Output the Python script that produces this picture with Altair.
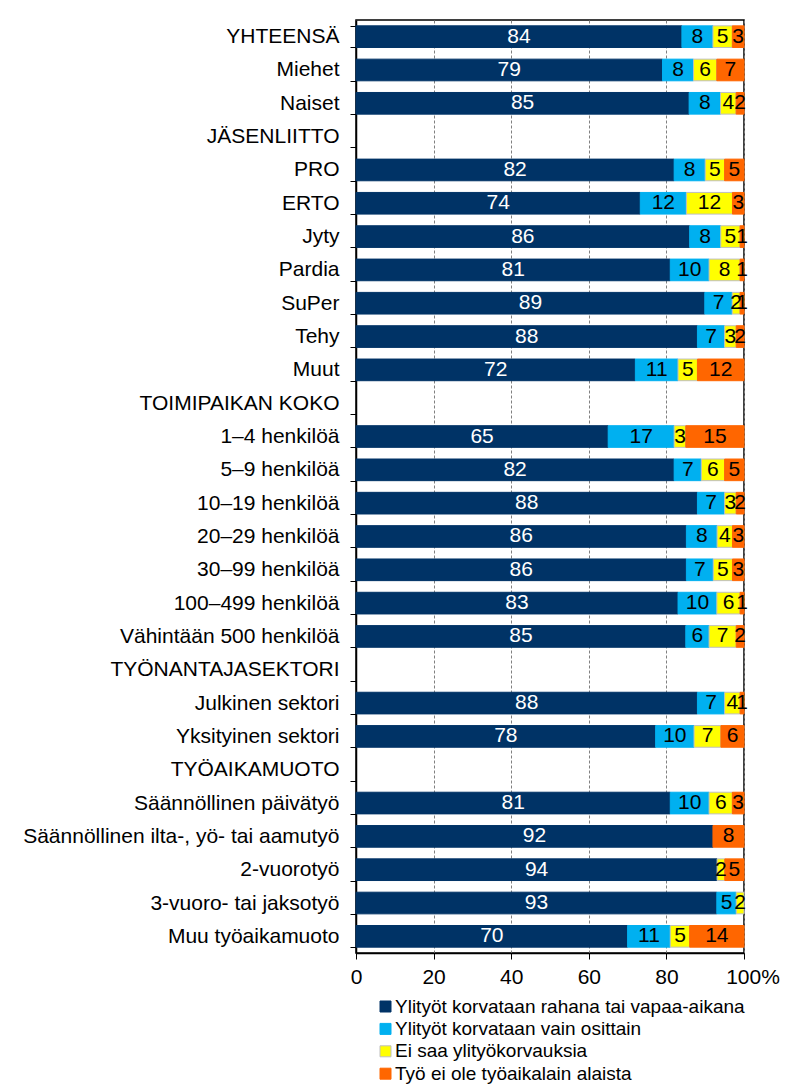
import altair as alt
import pandas as pd

categories = [
    "YHTEENSÄ", "Miehet", "Naiset", "JÄSENLIITTO", "PRO", "ERTO", "Jyty", "Pardia",
    "SuPer", "Tehy", "Muut", "TOIMIPAIKAN KOKO", "1–4 henkilöä", "5–9 henkilöä",
    "10–19 henkilöä", "20–29 henkilöä", "30–99 henkilöä", "100–499 henkilöä",
    "Vähintään 500 henkilöä", "TYÖNANTAJASEKTORI", "Julkinen sektori",
    "Yksityinen sektori", "TYÖAIKAMUOTO", "Säännöllinen päivätyö",
    "Säännöllinen ilta-, yö- tai aamutyö", "2-vuorotyö", "3-vuoro- tai jaksotyö",
    "Muu työaikamuoto",
]
series_names = [
    "Ylityöt korvataan rahana tai vapaa-aikana",
    "Ylityöt korvataan vain osittain",
    "Ei saa ylityökorvauksia",
    "Työ ei ole työaikalain alaista",
]
korvataan = [84, 79, 85, 0, 82, 74, 86, 81, 89, 88, 72, 0, 65, 82, 88, 86, 86, 83, 85, 0, 88, 78, 0, 81, 92, 94, 93, 70]
osittain = [8, 8, 8, 0, 8, 12, 8, 10, 7, 7, 11, 0, 17, 7, 7, 8, 7, 10, 6, 0, 7, 10, 0, 10, 0, 0, 5, 11]
ei_saa = [5, 6, 4, 0, 5, 12, 5, 8, 2, 3, 5, 0, 3, 6, 3, 4, 5, 6, 7, 0, 4, 7, 0, 6, 0, 2, 2, 5]
ei_alaista = [3, 7, 2, 0, 5, 3, 1, 1, 1, 2, 12, 0, 15, 5, 2, 3, 3, 1, 2, 0, 1, 6, 0, 3, 8, 5, 0, 14]

fills = ["#003366", "#00B0F0", "#FFFF00", "#FF6600"]
strokes = ["#003366", "#00B0F0", "#BFBFBF", "#FF6600"]
FONT = "Liberation Sans"
FS = 21

rows = []
for s_idx, (name, vals) in enumerate(zip(series_names, [korvataan, osittain, ei_saa, ei_alaista])):
    for cat, v in zip(categories, vals):
        rows.append({"cat": cat, "series": name, "order": s_idx, "value": v})
df = pd.DataFrame(rows)

base = (
    alt.Chart(df)
    .transform_filter("datum.value > 0")
    .transform_stack(
        stack="value",
        groupby=["cat"],
        as_=["v0", "v1"],
        offset="normalize",
        sort=[alt.SortField("order", order="ascending")],
    )
    .transform_calculate(
        x0="datum.v0 * 100", x1="datum.v1 * 100", xm="(datum.v0 + datum.v1) * 50"
    )
)

y_enc = alt.Y(
    "cat:N",
    scale=alt.Scale(domain=categories, paddingInner=0.35, paddingOuter=0.175),
    axis=alt.Axis(
        title=None,
        tickBand="extent",
        tickSize=6,
        labelPadding=11,
        labelFontSize=FS,
        labelColor="black",
        labelLimit=500,
        domainColor="black",
        domainWidth=1.5,
        tickColor="black",
        tickWidth=1,
        grid=False,
    ),
)

legend = alt.Legend(
    title=None,
    orient="none",
    legendX=20,
    legendY=977,
    symbolType="square",
    symbolSize=121,
    symbolStrokeWidth=1,
    labelFontSize=19,
    labelColor="black",
    labelOffset=0,
    labelLimit=600,
    rowPadding=2.4,
)

bars = base.mark_bar(strokeWidth=1).encode(
    y=y_enc,
    x=alt.X(
        "x0:Q",
        scale=alt.Scale(domain=[0, 100], nice=False, zero=True),
        axis=alt.Axis(
            title=None,
            values=[0, 20, 40, 60, 80, 100],
            labelExpr="datum.value == 100 ? '100%' : datum.label",
            labelOffset={"condition": {"test": "datum.value == 100", "value": 8.5}, "value": 0},
            labelFlush=False,
            grid=True,
            gridColor="#808080",
            gridDash=[3, 2],
            gridWidth=1,
            tickSize=6,
            tickColor="black",
            domainColor="black",
            domainWidth=1.5,
            labelFontSize=FS,
            labelColor="black",
            labelPadding=7,
        ),
    ),
    x2="x1:Q",
    fill=alt.Fill("series:N", scale=alt.Scale(domain=series_names, range=fills), legend=legend),
    stroke=alt.Stroke("series:N", scale=alt.Scale(domain=series_names, range=strokes), legend=legend),
)

labels = base.mark_text(fontSize=FS, font=FONT, baseline="middle", align="center").encode(
    y=alt.Y("cat:N"),
    x=alt.X("xm:Q"),
    text=alt.Text("value:Q"),
    color=alt.condition("datum.order == 0", alt.value("white"), alt.value("black")),
)

chart = (
    alt.layer(bars, labels)
    .properties(
        width=388,
        height=933,
        autosize=alt.AutoSizeParams(type="none"),
        padding={"left": 348, "top": 12, "right": 50, "bottom": 131},
    )
    .configure(font=FONT)
    .configure_view(stroke="black", strokeWidth=1.5)
)

chart.save("out.html", embed_options={"renderer": "svg", "actions": False})
